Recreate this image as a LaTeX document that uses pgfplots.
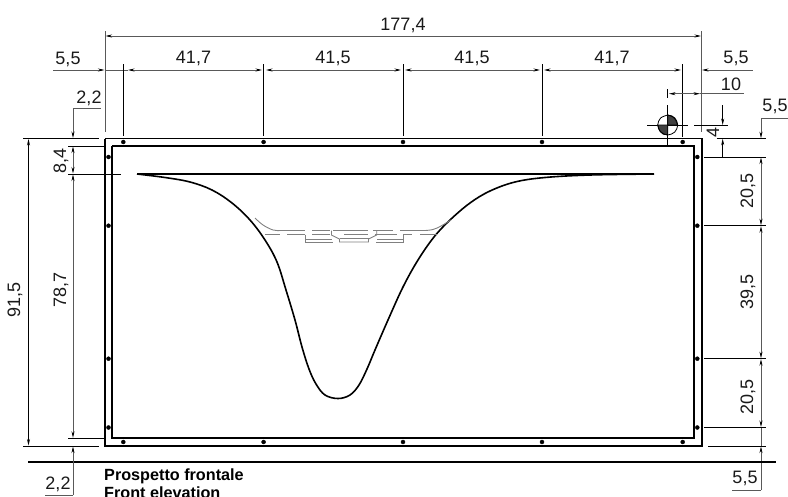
\documentclass[border=0pt]{standalone}
\usepackage{fontspec}
\setmainfont{Liberation Sans}
\usepackage{pgfplots}
\pgfplotsset{compat=1.18}
\usetikzlibrary{arrows.meta}
% everything is in reference pixels, y counted from the top
\pgfplotsset{
  dimline/.style={no markers, line width=0.7pt, black!65, line join=miter},
  thin line/.style={no markers, line width=0.8pt, black},
  darr/.style={{Stealth[length=6.5pt,width=3pt,black]}-{Stealth[length=6.5pt,width=3pt,black]}},
  rarr/.style={-{Stealth[length=6.5pt,width=3pt,black]}},
  frame/.style={no markers, line width=1.9pt, black, line join=miter},
  deck/.style={no markers, line width=0.9pt, black!50}
}
\newcommand{\lab}[3]{\node[font=\fontsize{18}{20}\selectfont, inner sep=0pt, text=black!90] at (axis cs:#1,#2) {#3};}
\newcommand{\vlab}[3]{\node[font=\fontsize{18}{20}\selectfont, inner sep=0pt, rotate=90, text=black!90] at (axis cs:#1,#2) {#3};}
\begin{document}
\begin{tikzpicture}
\useasboundingbox (0,0) rectangle (788pt,496pt);
\begin{axis}[
  scale only axis, width=788pt, height=496pt,
  xmin=0, xmax=788, ymin=0, ymax=496,
  y dir=reverse, hide axis, clip=false
]
% frames
\addplot[frame] coordinates {(105,138.5) (701.7,138.5) (701.7,446) (105,446) (105,138.5)};
\addplot[frame] coordinates {(112,146) (694,146) (694,438.3) (112,438.3) (112,146)};
% anchors
\addplot[only marks, mark=*, mark size=2pt, black] coordinates {
 (123.3,142) (263.6,142) (403,142) (542,142) (682.7,142)
 (123.3,442) (263.6,442) (403,442) (542,442) (682.7,442)
 (108.5,157) (108.5,225.7) (108.5,358.7) (108.5,427.5)
 (697.3,157) (697.3,225.7) (697.3,358.7) (697.3,427.5)};
% water line and section
\addplot[no markers, line width=1.6pt, black] coordinates {(137,174) (654,174)};
\addplot[no markers, line width=1.6pt, black, smooth, tension=0.6] coordinates {
 (137,174) (165,177.5) (190,182) (212,190) (232,203) (250,220) (265,240) (277,262)
 (286,290) (295,320) (302,347) (309,369) (316,384) (325,395) (338,398.5) (350,395) (359,385) (367,369) (375,350)
 (388,320) (403,287) (418,260) (434,237) (450,220) (470,203) (490,191) (515,182) (545,177.5) (590,175) (654,174)};
% grey deck
\addplot[deck, smooth, tension=0.6] coordinates {(255,218) (263,225) (273,230) (280,230.5)};
\addplot[deck] coordinates {(280,230.5) (305,230.5)};
\addplot[deck] coordinates {(312,230.5) (330,230.5)};
\addplot[deck] coordinates {(333,230.5) (350,230.5)};
\addplot[deck] coordinates {(350,230.5) (368,230.5)};
\addplot[deck] coordinates {(373,230.5) (393,230.5)};
\addplot[deck] coordinates {(400,230.5) (425,230.5)};
\addplot[deck, smooth, tension=0.6] coordinates {(425,230.5) (433,229.5) (441,226) (451,220)};
\addplot[deck] coordinates {(265,234.5) (280,234.5)};
\addplot[deck] coordinates {(287,234.5) (305,234.5)};
\addplot[deck] coordinates {(312,234.5) (330,234.5)};
\addplot[deck] coordinates {(344,234.5) (368,234.5)};
\addplot[deck] coordinates {(375,234.5) (397,234.5)};
\addplot[deck] coordinates {(403,234.5) (412,234.5)};
\addplot[deck] coordinates {(420,234.5) (437,234.5)};
\addplot[deck] coordinates {(305.7,234.5) (305.7,242) (333,242)};
\addplot[deck] coordinates {(376,242) (403,242) (403,234.5)};
\addplot[deck] coordinates {(305.7,239) (332,239)};
\addplot[deck] coordinates {(377,239) (403,239)};
\addplot[deck] coordinates {(331.5,230.5) (331.5,235) (339.5,239) (339.5,242) (368.5,242) (368.5,239) (376.7,235) (376.7,230.5)};
\addplot[deck] coordinates {(339.5,238.5) (368.5,238.5)};
% top dimensions
\addplot[dimline, rarr] coordinates {(140,36) (105.5,36)};
\addplot[dimline] coordinates {(140,36) (665,36)};
\addplot[dimline, rarr] coordinates {(665,36) (701,36)};
\addplot[dimline] coordinates {(105,31) (105,132)};
\addplot[dimline] coordinates {(701,31) (701,132)};
\addplot[dimline, rarr] coordinates {(53,70) (104.5,70)};
\addplot[dimline, darr] coordinates {(128,70) (262,70)};
\addplot[dimline, darr] coordinates {(266,70) (401,70)};
\addplot[dimline, darr] coordinates {(405,70) (540,70)};
\addplot[dimline, darr] coordinates {(544,70) (681,70)};
\addplot[dimline] coordinates {(105,70) (128,70)};
\addplot[dimline, {Stealth[length=6.5pt,width=3pt,black]}-] coordinates {(702,70) (753,70)};
\addplot[thin line] coordinates {(123.3,64) (123.3,136)};
\addplot[thin line] coordinates {(263.6,64) (263.6,136)};
\addplot[thin line] coordinates {(403,64) (403,136)};
\addplot[thin line] coordinates {(542,64) (542,136)};
\addplot[thin line] coordinates {(682.7,64) (682.7,137)};
% level symbol
\addplot[dimline, darr] coordinates {(669,93.7) (700,93.7)};
\addplot[dimline] coordinates {(700,93.7) (744,93.7)};
\addplot[thin line] coordinates {(667.7,89) (667.7,98)};
\addplot[thin line] coordinates {(667.7,105) (667.7,146)};
\addplot[thin line] coordinates {(647,125) (688,125)};
\addplot[thin line] coordinates {(694,125) (727.7,125)};
\addplot[thin line, fill=black!75] coordinates {(667.7,115) (672,116) (675.5,119.5) (677.7,125) (667.7,125) (667.7,115)};
\addplot[thin line, fill=black!75] coordinates {(667.7,135) (663,134) (659.5,130.5) (657.7,125) (667.7,125) (667.7,135)};
\addplot[thin line, smooth, tension=0.55] coordinates {(667.7,115) (674.8,118) (677.7,125) (674.8,132) (667.7,135) (660.6,132) (657.7,125) (660.6,118) (667.7,115)};
\addplot[thin line, rarr] coordinates {(722.7,105) (722.7,125)};
\addplot[thin line, rarr] coordinates {(722.7,157) (722.7,138.7)};
% right side
\addplot[dimline] coordinates {(788,118) (761,118)};
\addplot[dimline, rarr] coordinates {(761,118) (761,138.2)};
\addplot[dimline, darr] coordinates {(761,157.5) (761,225.2)};
\addplot[dimline, darr] coordinates {(761,226.2) (761,358.2)};
\addplot[dimline, darr] coordinates {(761,359.2) (761,427)};
\addplot[dimline, rarr] coordinates {(761,490) (761,446.5)};
\addplot[dimline] coordinates {(732,490) (761,490)};
\addplot[dimline] coordinates {(761,427.5) (761,446)};
\addplot[thin line] coordinates {(716.7,138.7) (765.7,138.7)};
\addplot[thin line] coordinates {(704,157) (766,157)};
\addplot[thin line] coordinates {(704,225.7) (766,225.7)};
\addplot[thin line] coordinates {(704,358.7) (766,358.7)};
\addplot[thin line] coordinates {(704,427.5) (766,427.5)};
\addplot[thin line] coordinates {(708,446) (766,446)};
% ground line
\addplot[no markers, line width=1.6pt, black] coordinates {(28,461.7) (775.7,461.7)};
% left side
\addplot[thin line, darr] coordinates {(28.5,139) (28.5,445.5)};
\addplot[thin line] coordinates {(23,138.5) (99,138.5)};
\addplot[thin line] coordinates {(23,446) (99,446)};
\addplot[thin line] coordinates {(68,146) (104,146)};
\addplot[thin line] coordinates {(68,174) (121,174)};
\addplot[thin line] coordinates {(68,438.3) (105,438.3)};
\addplot[dimline] coordinates {(101,108.7) (73,108.7)};
\addplot[dimline, rarr] coordinates {(73,108.7) (73,138)};
\addplot[dimline, darr] coordinates {(73,146.5) (73,173.5)};
\addplot[dimline, darr] coordinates {(73,174.5) (73,437.8)};
\addplot[dimline, rarr] coordinates {(73,495) (73,446.5)};
\addplot[dimline] coordinates {(45,495) (73,495)};
% labels
\lab{403}{25}{177,4}
\lab{68}{59}{5,5} \lab{193.5}{58}{41,7} \lab{333}{58}{41,5} \lab{472}{58}{41,5} \lab{612}{58}{41,7} \lab{736}{58}{5,5}
\lab{731}{84}{10} \lab{775}{106}{5,5} \lab{89}{98}{2,2}
\lab{58}{484}{2,2} \lab{745}{478}{5,5}
\vlab{713}{132}{4}
\vlab{748}{191}{20,5} \vlab{748}{292}{39,5} \vlab{748}{397}{20,5}
\vlab{61}{161}{8,4} \vlab{61}{290}{78,7} \vlab{15}{300}{91,5}
\node[font=\fontsize{16.2}{18}\selectfont\bfseries, anchor=west, inner sep=0pt] at (axis cs:104,476) {Prospetto frontale};
\node[font=\fontsize{16.2}{18}\selectfont\bfseries, anchor=west, inner sep=0pt] at (axis cs:104,493) {Front elevation};
\end{axis}
\end{tikzpicture}
\end{document}
